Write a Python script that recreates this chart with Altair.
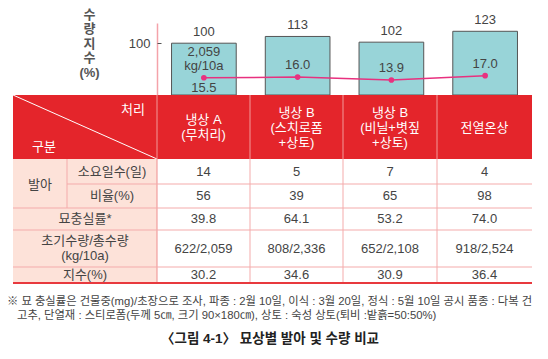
import altair as alt
import pandas as pd

# ---------------- data ----------------
treatments = ["냉상 A", "냉상 B-1", "냉상 B-2", "전열온상"]
header_labels = ["냉상 A\n(무처리)", "냉상 B\n(스치로폼\n+상토)", "냉상 B\n(비닐+볏짚\n+상토)", "전열온상"]
yield_index = [100, 113, 102, 123]
line_values = [15.5, 16.0, 13.9, 17.0]
days_needed = [14, 5, 7, 4]
germ_ratio = [56, 39, 65, 98]
seedling_quality = [39.8, 64.1, 53.2, 74.0]
early_yield = [622, 808, 652, 918]
total_yield = [2059, 2336, 2108, 2524]
index_pct = [30.2, 34.6, 30.9, 36.4]
y_ticks = [100]
row_labels = ["소요일수(일)", "비율(%)", "묘충실률*", "초기수량/총수량\n(kg/10a)", "지수(%)"]
group_label = "발아"
corner_labels = ["처리", "구분"]
axis_title = ["수", "량", "지", "수", "(%)"]
footnote = [
    "※ 묘 충실률은 건물중(mg)/초장으로 조사, 파종 : 2월 10일, 이식 : 3월 20일, 정식 : 5월 10일 공시 품종 : 다복 건",
    "고추, 단열재 : 스티로폼(두께 5㎝, 크기 90×180㎝), 상토 : 숙성 상토(퇴비 :밭흙=50:50%)",
]
caption = "〈그림 4-1〉 묘상별 발아 및 수량 비교"

# ---------------- layout (pixels) ----------------
FONT = "Liberation Sans, Noto Sans CJK KR"
W, H = 532, 343
LH = 15
col_edges = [13, 67, 157, 250, 343, 437, 532]
row_edges = [95, 159, 184, 208, 230, 267, 283]
RED = "#e4252b"
PINK_BG = "#fde2d9"
GRID = "#f4abab"
LINE_C = "#e8317f"
TXT = "#444444"

band_x = alt.Scale(domain=treatments, range=[149, 524], paddingInner=0.31, paddingOuter=0.155)
point_x = alt.Scale(type="point", domain=treatments, range=[149, 524], padding=0.5)
bar_y = alt.Scale(domain=[0, 139], range=[87, 15], nice=False, zero=True)
line_y = alt.Scale(domain=[3.1, 54.9], range=[87, 15], nice=False, zero=False)
px_x = alt.Scale(domain=[8, 540], range=[0, 532], nice=False, zero=False)
px_y = alt.Scale(domain=[8, 351], range=[0, 343], nice=False, zero=False)

# ---------------- bar group ----------------
bar_df = pd.DataFrame({"t": treatments, "v": yield_index})
bars = alt.Chart(bar_df).mark_bar(fill="#98d4d8", stroke="#555555", strokeWidth=1).encode(
    x=alt.X("t:N", scale=band_x, axis=None, sort=None),
    y=alt.Y("v:Q", scale=bar_y, axis=alt.Axis(
        orient="left", offset=-149, values=y_ticks, ticks=False, tickSize=0, grid=False,
        domainColor="#f4a3aa", domainWidth=1.5,
        labelColor=TXT, labelFontSize=13, labelFont=FONT, labelPadding=7,
        title=axis_title, titleAngle=0, titleX=-68, titleY=6, titleAlign="center",
        titleBaseline="middle", titleFontSize=13, titleFontWeight="bold", titleColor="#555555",
        titleLineHeight=14.5, titleFont=FONT)),
)
bar_labels = alt.Chart(bar_df).mark_text(baseline="bottom", dy=-4, fontSize=13, color=TXT, font=FONT).encode(
    x=alt.X("t:N", scale=band_x, axis=None, sort=None),
    y=alt.Y("v:Q", scale=bar_y, axis=alt.Axis(
        orient="right", offset=-383, values=y_ticks, labels=False, domain=False, ticks=True,
        tickSize=4, tickColor="#555555", tickWidth=1, grid=False, title=None)),
    text="v:Q",
)
bar_group = alt.layer(bars, bar_labels).resolve_axis(y="independent")

# ---------------- line group ----------------
above1 = [f"{total_yield[0]:,}"] + [""] * (len(line_values) - 1)
above2 = ["kg/10a"] + [f"{v:.1f}" for v in line_values[1:]]
below = [f"{line_values[0]:.1f}"] + [""] * (len(line_values) - 1)
line_df = pd.DataFrame({"t": treatments, "v": line_values, "a1": above1, "a2": above2, "b": below})
lx = alt.X("t:N", scale=point_x, axis=None, sort=None)
ly = alt.Y("v:Q", scale=line_y, axis=None)
line = alt.Chart(line_df).mark_line(color=LINE_C, strokeWidth=1.5).encode(x=lx, y=ly)
pts = alt.Chart(line_df).mark_circle(color=LINE_C, size=32, opacity=1).encode(x=lx, y=ly)
lab_a1 = alt.Chart(line_df).mark_text(baseline="bottom", dy=-19, fontSize=13, color=TXT, font=FONT).encode(
    x=lx, y=ly, text="a1:N")
lab_a2 = alt.Chart(line_df).mark_text(baseline="bottom", dy=-5, fontSize=13, color=TXT, font=FONT).encode(
    x=lx, y=ly, text="a2:N")
lab_b = alt.Chart(line_df).mark_text(baseline="top", dy=4, fontSize=13, color=TXT, font=FONT).encode(
    x=lx, y=ly, text="b:N")
line_group = alt.layer(line, pts, lab_a1, lab_a2, lab_b)

# ---------------- table group ----------------
c = col_edges
r = row_edges
rects = pd.DataFrame([
    {"x": c[0], "x2": c[-1], "y": r[0], "y2": r[1], "fill": RED},
    {"x": c[0], "x2": c[2], "y": r[1], "y2": r[-1], "fill": PINK_BG},
])
rules = [{"x": c[0], "x2": c[2], "y": r[0], "y2": r[1], "col": "#ffffff", "w": 1}]
for xe in c[2:-1]:
    rules.append({"x": xe, "x2": xe, "y": r[0], "y2": r[1], "col": "#f29a9a", "w": 1})
rules.append({"x": c[1], "x2": c[1], "y": r[1], "y2": r[3], "col": GRID, "w": 1})
for i, xe in enumerate(c[2:-1]):
    rules.append({"x": xe, "x2": xe, "y": r[1], "y2": r[-1], "col": "#ee8e8e" if i == 0 else GRID, "w": 1})
rules.append({"x": c[1], "x2": c[-1], "y": r[2], "y2": r[2], "col": GRID, "w": 1})
for ye in r[3:-1]:
    rules.append({"x": c[0], "x2": c[-1], "y": ye, "y2": ye, "col": GRID, "w": 1})
rules.append({"x": c[0], "x2": c[-1], "y": r[-1], "y2": r[-1], "col": "#e8393e", "w": 2})
rules = pd.DataFrame(rules)


def first_line_y(center, text):
    n = text.count("\n") + 1
    return center - (n - 1) * LH / 2


texts = []
hy = (r[0] + r[1]) / 2 + 0.5
for i, lab in enumerate(header_labels):
    texts.append({"x": (c[2 + i] + c[3 + i]) / 2, "y": first_line_y(hy, lab), "text": lab, "col": "#ffffff"})
texts.append({"x": c[2] - 24, "y": r[0] + 15, "text": corner_labels[0], "col": "#ffffff"})
texts.append({"x": c[0] + 31, "y": r[1] - 12, "text": corner_labels[1], "col": "#ffffff"})
texts.append({"x": (c[0] + c[1]) / 2, "y": (r[1] + r[3]) / 2 + 1, "text": group_label, "col": TXT})
for k, lab in enumerate(row_labels):
    cx = (c[1] + c[2]) / 2 if k < 2 else (c[0] + c[2]) / 2
    cy = (r[1 + k] + r[2 + k]) / 2
    texts.append({"x": cx, "y": first_line_y(cy, lab), "text": lab, "col": TXT})
rows = [
    [str(v) for v in days_needed],
    [str(v) for v in germ_ratio],
    [f"{v:.1f}" for v in seedling_quality],
    [f"{a}/{b:,}" for a, b in zip(early_yield, total_yield)],
    [f"{v:.1f}" for v in index_pct],
]
for k, vals in enumerate(rows):
    for i, v in enumerate(vals):
        texts.append({"x": (c[2 + i] + c[3 + i]) / 2, "y": (r[1 + k] + r[2 + k]) / 2, "text": v, "col": TXT})
texts = pd.DataFrame(texts)

notes = pd.DataFrame({"x": [7, 17], "y": [302, 316], "text": footnote})
cap = pd.DataFrame({"x": [270], "y": [339], "text": [caption]})

tx = alt.X("x:Q", scale=px_x, axis=None)
ty = alt.Y("y:Q", scale=px_y, axis=None)
cells = alt.Chart(rects).mark_rect().encode(
    x=tx, x2="x2:Q", y=ty, y2="y2:Q", fill=alt.Fill("fill:N", scale=None))
grid = alt.Chart(rules).mark_rule().encode(
    x=tx, x2="x2:Q", y=ty, y2="y2:Q", color=alt.Color("col:N", scale=None),
    strokeWidth=alt.StrokeWidth("w:Q", scale=None))
ttext = alt.Chart(texts).mark_text(fontSize=13, font=FONT, baseline="middle", align="center",
                                   lineBreak="\n", lineHeight=LH).encode(
    x=tx, y=ty, text="text:N", color=alt.Color("col:N", scale=None))
ntext = alt.Chart(notes).mark_text(fontSize=11.3, font=FONT, baseline="middle", align="left",
                                   color=TXT).encode(x=tx, y=ty, text="text:N")
ctext = alt.Chart(cap).mark_text(fontSize=13.5, font=FONT, baseline="middle", align="center",
                                 fontWeight="bold", color="#222222").encode(x=tx, y=ty, text="text:N")
table_group = alt.layer(cells, grid, ttext, ntext, ctext)

chart = alt.layer(bar_group, line_group, table_group).resolve_scale(
    x="independent", y="independent"
).properties(width=W, height=H, padding=0, autosize="none", background="white"
).configure_view(strokeWidth=0)

chart.save("out.html", embed_options={"renderer": "svg", "actions": False})
